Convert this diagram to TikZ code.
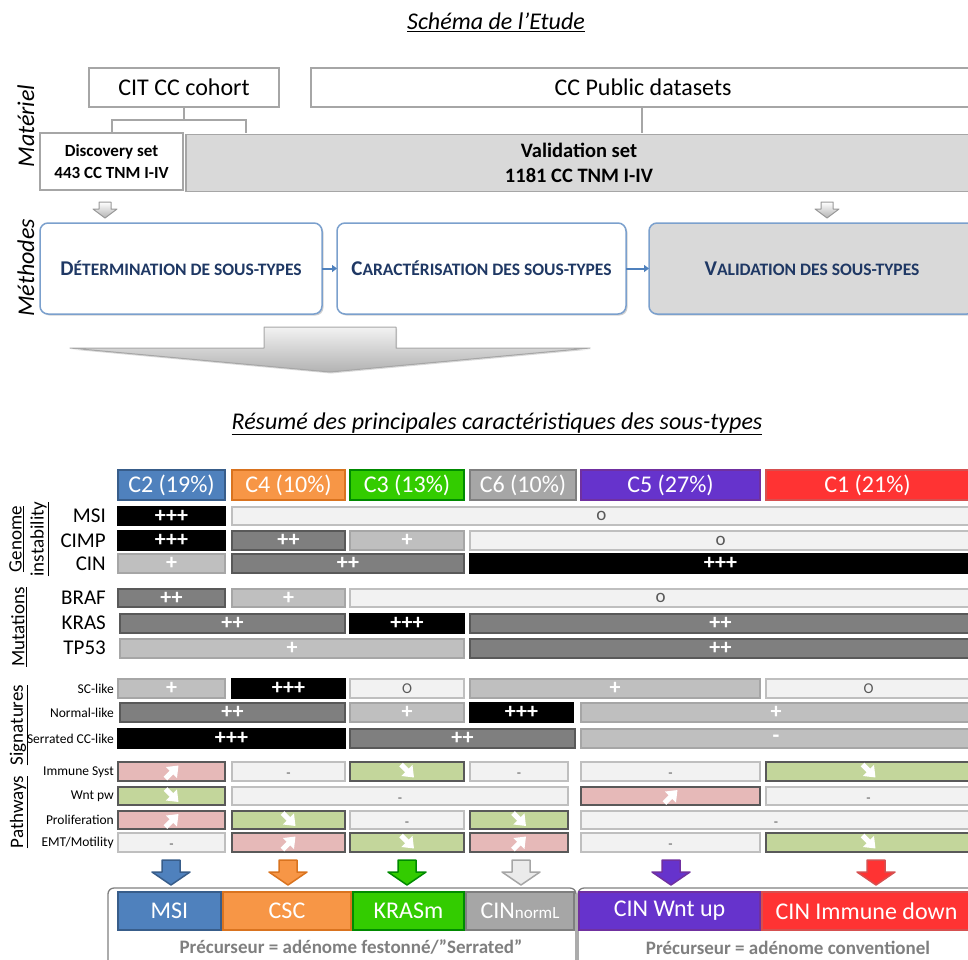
\documentclass[tikz,border=0pt]{standalone}
\usepackage{fontspec}
\setmainfont{Carlito}
\usetikzlibrary{arrows.meta,shadows}

% palette
\definecolor{lgline}{HTML}{A6A6A6}
\definecolor{panel}{HTML}{D9D9D9}
\definecolor{mblue}{HTML}{7BA0CD}
\definecolor{navy}{HTML}{1F3864}
\definecolor{arrblue}{HTML}{4F81BD}
\definecolor{nilfill}{HTML}{F2F2F2}
\definecolor{nilline}{HTML}{BFBFBF}
\definecolor{dkfill}{HTML}{7F7F7F}
\definecolor{dkline}{HTML}{595959}
\definecolor{ltfill}{HTML}{BFBFBF}
\definecolor{ltline}{HTML}{A6A6A6}
\definecolor{upfill}{HTML}{E6B9B8}
\definecolor{dnfill}{HTML}{C3D69B}
\definecolor{txtgray}{HTML}{595959}
\definecolor{capgray}{HTML}{7F7F7F}
\definecolor{ctwo}{HTML}{4F81BD}   \definecolor{ctwoline}{HTML}{385D8A}
\definecolor{cfour}{HTML}{F79646}  \definecolor{cfourline}{HTML}{D9731F}
\definecolor{cthree}{HTML}{33CC00} \definecolor{cthreeline}{HTML}{008A00}
\definecolor{csix}{HTML}{A6A6A6}   \definecolor{csixline}{HTML}{7F7F7F}
\definecolor{cfive}{HTML}{6633CC}  \definecolor{cfiveline}{HTML}{7030A0}
\definecolor{cone}{HTML}{FF3333}   \definecolor{coneline}{HTML}{D65050}

\newcommand\setfs[1]{\fontsize{#1}{#1}\selectfont}
% fake small caps for the method titles
\newcommand\smcap[2]{{\fontsize{21}{21}\selectfont #1}{\fontsize{17.5}{21}\selectfont #2}}
% one table cell: name, x1, x2, y1, y2, style, text
\newcommand\gcell[7]{%
  \node[#6, minimum width={#3-#2-2}, minimum height={#5-#4-2}] (#1)
    at ({(#2+#3)/2},{(#4+#5)/2}) {#7};}
% trend arrows inside pathway cells
\newcommand\upmark[1]{\draw[trendarrow] ([shift={(-6,7)}]#1.center) -- ([shift={(7,-6)}]#1.center);}
\newcommand\dnmark[1]{\draw[trendarrow] ([shift={(-6,-7)}]#1.center) -- ([shift={(7,6)}]#1.center);}
% block arrow pointing down to a subtype box
\newcommand\downblk[3]{%
  \filldraw[fill=#2, draw=#3, line width=1.5, line join=round]
    (#1-9,860) -- (#1+9,860) -- (#1+9,872) -- (#1+19,872) -- (#1,885)
    -- (#1-19,872) -- (#1-9,872) -- cycle;}
% neutral mark, sitting a little below the middle of its cell
\newcommand\dashmark{{\setfs{14}\smash{\raisebox{-6pt}{-}}}}

\begin{document}
\begin{tikzpicture}[x=1pt,y=-1pt,
  box/.style={rectangle, inner sep=0, outer sep=0},
  plainbox/.style={box, draw=lgline, line width=1.5, fill=white},
  conn/.style={draw=lgline, line width=1.3},
  mbox/.style={box, rounded corners=8, draw=mblue, line width=1.5, fill=white,
    text=navy, font=\bfseries,
    drop shadow={shadow xshift=1.5pt, shadow yshift=-1.5pt, opacity=0.3, fill=black!60}},
  marrow/.style={draw=arrblue, line width=2, -{Triangle[length=5,width=7]}},
  cellbase/.style={box, line width=2, text=white, font=\setfs{22}\bfseries},
  blk/.style={cellbase, fill=black, draw=black},
  dkg/.style={cellbase, fill=dkfill, draw=dkline},
  ltg/.style={cellbase, fill=ltfill, draw=ltline},
  nil/.style={cellbase, fill=nilfill, draw=nilline, text=txtgray, font=\setfs{19}},
  upc/.style={cellbase, fill=upfill, draw=dkline},
  dnc/.style={cellbase, fill=dnfill, draw=dkline},
  hdr/.style={box, line width=2, text=white, font=\setfs{24}},
  biglab/.style={anchor=east, inner sep=0, font=\setfs{21}},
  smalllab/.style={anchor=east, inner sep=0, font=\setfs{13.5}},
  grp/.style={rotate=90, inner sep=0, font=\fontsize{19}{22}\selectfont, align=center},
  trendarrow/.style={draw=white, line width=5, -{Triangle[length=10,width=15]}},
]
\useasboundingbox (0,0) rectangle (968,959);

% ---------- study scheme ----------
\node[font=\setfs{24}\itshape] (title) at (496,22) {\underline{Schéma de l’Etude}};

\node[rotate=90, font=\setfs{24}\itshape, inner sep=0] (materiel) at (26,126) {Matériel};
\node[rotate=90, font=\setfs{24}\itshape, inner sep=0] (methodes) at (26,268) {Méthodes};

\node[plainbox, minimum width=190, minimum height=39, font=\setfs{24}] (cit) at (184,87.5) {CIT CC cohort};
\node[plainbox, minimum width=664, minimum height=39, font=\setfs{24}] (pub) at (643,87.5) {CC Public datasets};

\node[plainbox, minimum width=143, minimum height=57, align=center,
      font=\fontsize{17}{22}\selectfont\bfseries] (disc) at (111.5,161.5)
      {Discovery set\\443 CC TNM I-IV};
\node[box, draw=lgline, line width=1.5, fill=panel, minimum width=786, minimum height=57, align=center,
      font=\fontsize{20.5}{25}\selectfont\bfseries] (val) at (579,163)
      {Validation set\\1181 CC TNM I-IV};

\coordinate (fork) at (184,120);
\coordinate (dtop) at (112,133);
\coordinate (vtop) at (246,133);
\coordinate (ptop) at (642,107);
\coordinate (pbot) at (642,133);
\draw[conn] (cit.south) -- (fork);
\draw[conn] (dtop) |- (fork) -| (vtop);
\draw[conn] (ptop) -- (pbot);

% small grey arrows into the methods
\foreach \ax in {105, 827}{
  \shade[top color=white, bottom color=black!30, draw=black!40, line width=1, line join=round]
    (\ax-6,202) -- (\ax+6,202) -- (\ax+6,209) -- (\ax+12,209) -- (\ax,218)
    -- (\ax-12,209) -- (\ax-6,209) -- cycle;
}

\node[mbox, minimum width=282, minimum height=91] (det) at (181,268.5)
  {\smcap{D}{ÉTERMINATION DE SOUS-TYPES}};
\node[mbox, minimum width=289, minimum height=91] (car) at (481.5,268.5)
  {\smcap{C}{ARACTÉRISATION DES SOUS-TYPES}};
\node[mbox, fill=panel, minimum width=326, minimum height=91] (vald) at (812,268.5)
  {\smcap{V}{ALIDATION DES SOUS-TYPES}};
\draw[marrow] (det.east) -- (car.west);
\draw[marrow] (car.east) -- (vald.west);

% wide summary arrow
\shade[top color=black!5, bottom color=black!30, draw=black!35, line width=1, line join=round,
       drop shadow={shadow xshift=1pt, shadow yshift=-1.5pt, opacity=0.3}]
  (264,327) -- (396,327) -- (396,348) -- (590,348) -- (330,372) -- (70,348) -- (264,348) -- cycle;

% ---------- summary table ----------
\node[font=\setfs{24}\itshape] (subtitle) at (497,424)
  {\underline{Résumé des principales caractéristiques des sous-types}};

% column headers
\gcell{h2}{117}{226}{469}{501}{hdr, fill=ctwo, draw=ctwoline}{C2 (19\%)}
\gcell{h4}{231}{346}{469}{501}{hdr, fill=cfour, draw=cfourline}{C4 (10\%)}
\gcell{h3}{349}{465}{469}{501}{hdr, fill=cthree, draw=cthreeline}{C3 (13\%)}
\gcell{h6}{469}{577}{469}{501}{hdr, fill=csix, draw=csixline}{C6 (10\%)}
\gcell{h5}{580}{761}{469}{501}{hdr, fill=cfive, draw=cfiveline}{C5 (27\%)}
\gcell{h1}{765}{970}{469}{501}{hdr, fill=cone, draw=coneline}{C1 (21\%)}

% group labels
\node[grp] (ggen) at (29,539) {\underline{Genome}\\\underline{instability}};
\node[grp] (gmut) at (19,627) {\underline{Mutations}};
\node[grp] (gsig) at (19,725) {\underline{Signatures}};
\node[grp] (gpat) at (19,812) {\underline{Pathways}};

% genome instability
\node[biglab] (lmsi) at (106,516) {MSI};
\gcell{msia}{117}{226}{506}{526}{blk}{+++}
\gcell{msib}{231}{972}{506}{526}{nil}{o}

\node[biglab] (lcimp) at (106,541) {CIMP};
\gcell{cimpa}{117}{226}{530}{551}{blk}{+++}
\gcell{cimpb}{231}{346}{530}{551}{dkg}{++}
\gcell{cimpc}{349}{465}{530}{551}{ltg}{+}
\gcell{cimpd}{469}{972}{530}{551}{nil}{o}

\node[biglab] (lcin) at (106,564) {CIN};
\gcell{cina}{117}{226}{553}{574}{ltg}{+}
\gcell{cinb}{231}{465}{553}{574}{dkg}{++}
\gcell{cinc}{469}{972}{553}{574}{blk}{+++}

% mutations
\node[biglab] (lbraf) at (106,598) {BRAF};
\gcell{brafa}{117}{226}{588}{608}{dkg}{++}
\gcell{brafb}{231}{346}{588}{608}{ltg}{+}
\gcell{brafc}{349}{972}{588}{608}{nil}{o}

\node[biglab] (lkras) at (106,623) {KRAS};
\gcell{krasa}{119}{346}{613}{634}{dkg}{++}
\gcell{krasb}{349}{465}{613}{634}{blk}{+++}
\gcell{krasc}{469}{972}{613}{634}{dkg}{++}

\node[biglab] (ltp) at (106,648) {TP53};
\gcell{tpa}{119}{465}{638}{659}{ltg}{+}
\gcell{tpb}{469}{972}{638}{659}{dkg}{++}

% signatures
\node[smalllab] (lsc) at (114,689) {SC-like};
\gcell{sca}{117}{226}{678}{699}{ltg}{+}
\gcell{scb}{231}{346}{678}{699}{blk}{+++}
\gcell{scc}{349}{465}{678}{699}{nil}{\setfs{15}O}
\gcell{scd}{469}{761}{678}{699}{ltg}{+}
\gcell{sce}{765}{972}{678}{699}{nil}{\setfs{15}O}

\node[smalllab] (lnorm) at (114,713) {Normal-like};
\gcell{norma}{119}{346}{702}{723}{dkg}{++}
\gcell{normb}{349}{465}{702}{723}{ltg}{+}
\gcell{normc}{469}{574}{702}{723}{blk}{+++}
\gcell{normd}{580}{972}{702}{723}{ltg}{+}

\node[smalllab] (lser) at (114,739) {Serrated CC-like};
\gcell{sera}{117}{346}{728}{749}{blk}{+++}
\gcell{serb}{349}{576}{728}{749}{dkg}{++}
\gcell{serc}{580}{972}{728}{749}{ltg}{-}

% pathways
\node[smalllab] (limm) at (114,772) {Immune Syst};
\gcell{imma}{117}{226}{761}{782}{upc}{}
\gcell{immb}{231}{346}{761}{782}{nil}{\dashmark}
\gcell{immc}{349}{465}{761}{782}{dnc}{}
\gcell{immd}{469}{569}{761}{782}{nil}{\dashmark}
\gcell{imme}{580}{761}{761}{782}{nil}{\dashmark}
\gcell{immf}{765}{972}{761}{782}{dnc}{}
\upmark{imma}\dnmark{immc}\dnmark{immf}

\node[smalllab] (lwnt) at (114,796) {Wnt pw};
\gcell{wnta}{117}{226}{786}{806}{dnc}{}
\gcell{wntb}{231}{569}{786}{806}{nil}{\dashmark}
\gcell{wntc}{580}{761}{786}{806}{upc}{}
\gcell{wntd}{765}{972}{786}{806}{nil}{\dashmark}
\dnmark{wnta}\upmark{wntc}

\node[smalllab] (lpro) at (114,820) {Proliferation};
\gcell{proa}{117}{226}{810}{830}{upc}{}
\gcell{prob}{231}{346}{810}{830}{dnc}{}
\gcell{proc}{349}{465}{810}{830}{nil}{\dashmark}
\gcell{prod}{469}{569}{810}{830}{dnc}{}
\gcell{proe}{580}{972}{810}{830}{nil}{\dashmark}
\upmark{proa}\dnmark{prob}\dnmark{prod}

\node[smalllab] (lemt) at (114,843) {EMT/Motility};
\gcell{emta}{117}{226}{832}{853}{nil}{\dashmark}
\gcell{emtb}{231}{346}{832}{853}{upc}{}
\gcell{emtc}{349}{465}{832}{853}{dnc}{}
\gcell{emtd}{469}{569}{832}{853}{upc}{}
\gcell{emte}{580}{761}{832}{853}{nil}{\dashmark}
\gcell{emtf}{765}{972}{832}{853}{dnc}{}
\upmark{emtb}\dnmark{emtc}\upmark{emtd}\dnmark{emtf}

% ---------- consensus subtypes ----------
\downblk{171}{ctwo}{ctwoline}
\downblk{288}{cfour}{cfourline}
\downblk{407}{cthree}{cthreeline}
\downblk{521}{black!8}{csix}
\downblk{671}{cfive}{cfiveline}
\downblk{876}{cone}{coneline}

\draw[draw=capgray, line width=1.3, rounded corners=6] (108,968) |- (576,888) -- (576,968);
\draw[draw=capgray, line width=1.3, rounded corners=6] (578,968) |- (975,888);

\gcell{tmsi}{117}{222}{891}{931}{hdr, fill=ctwo, draw=ctwoline}{MSI}
\gcell{tcsc}{222}{352}{891}{931}{hdr, fill=cfour, draw=cfourline}{CSC}
\gcell{tkras}{352}{465}{891}{931}{hdr, fill=cthree, draw=cthreeline}{KRASm}
\gcell{tnorm}{465}{575}{891}{931}{hdr, fill=csix, draw=csixline}{CIN{\setfs{17}normL}}
\gcell{twnt}{578}{761}{891}{931}{hdr, fill=cfive, draw=cfiveline}{CIN Wnt up}
\gcell{timm}{761}{972}{891}{931}{hdr, fill=cone, draw=coneline}{CIN Immune down}

\node[text=capgray, font=\setfs{19}\bfseries, inner sep=0] (capa) at (351,947)
  {Précurseur = adénome festonné/”Serrated”};
\node[text=capgray, font=\setfs{19}\bfseries, inner sep=0] (capb) at (788,948)
  {Précurseur = adénome conventionel};
\end{tikzpicture}
\end{document}
